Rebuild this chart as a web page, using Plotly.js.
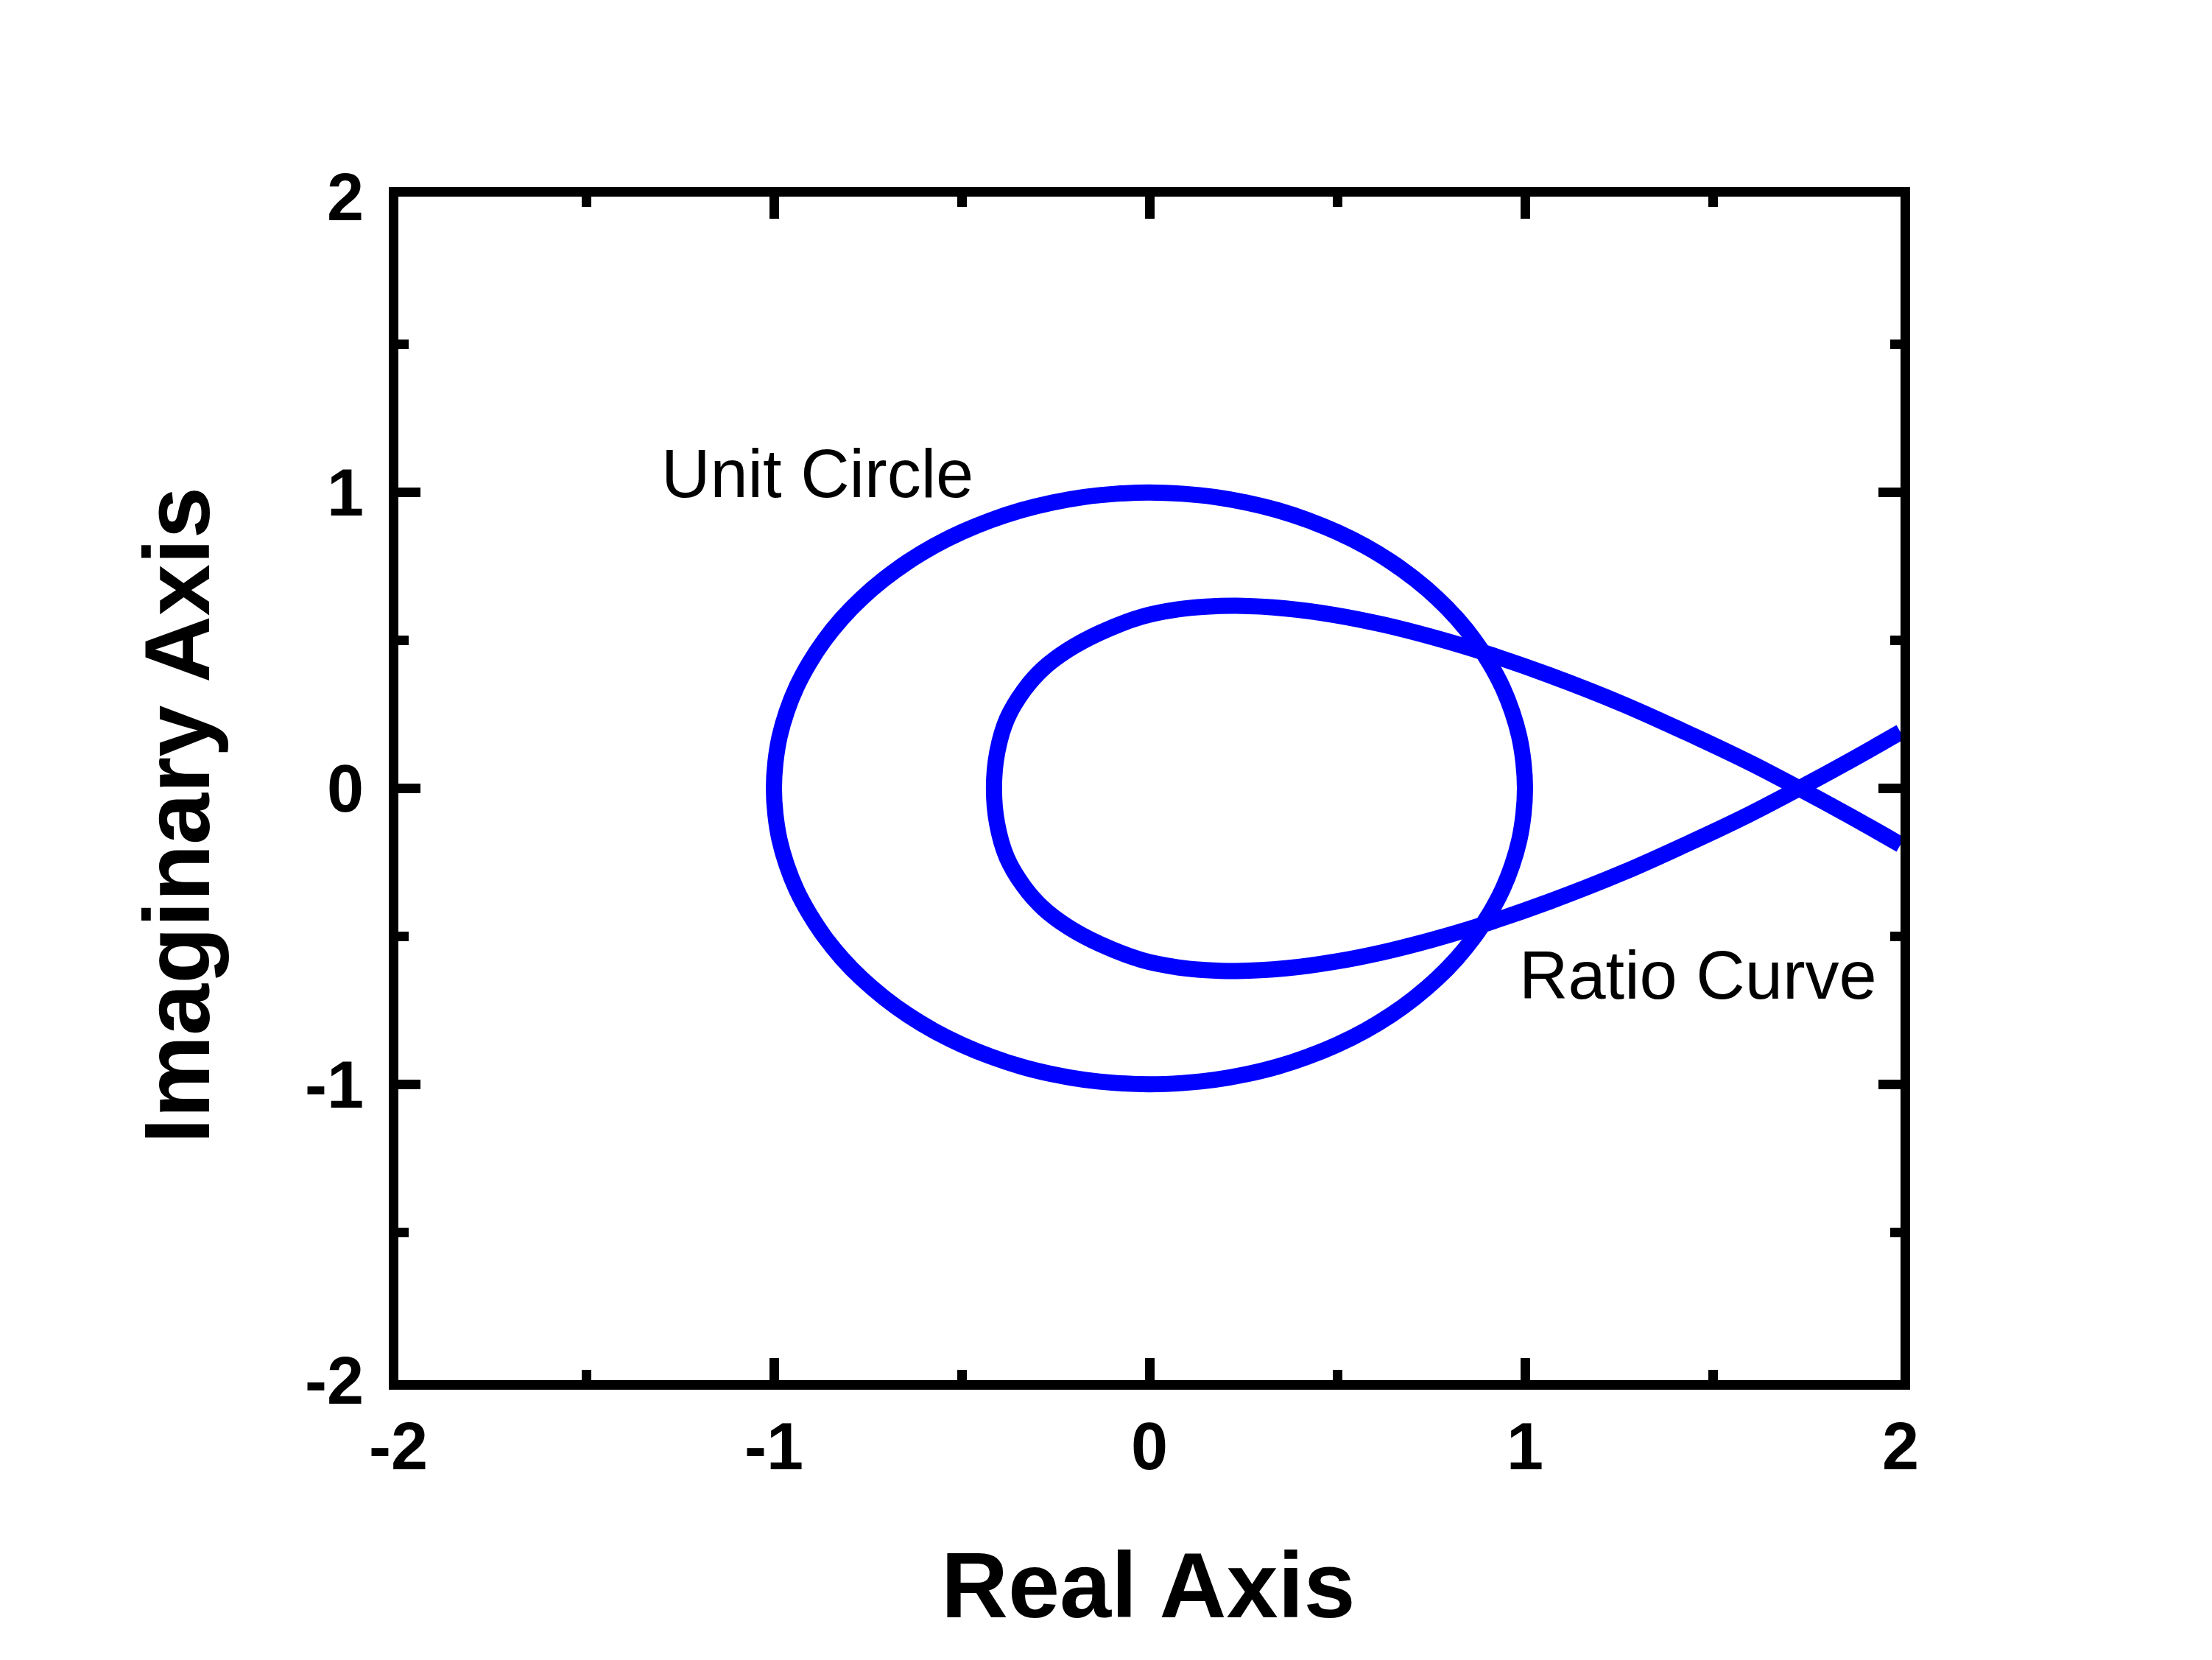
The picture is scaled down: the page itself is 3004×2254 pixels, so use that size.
<!DOCTYPE html>
<html>
<head>
<meta charset="utf-8">
<script src="https://cdn.plot.ly/plotly-3.0.1.min.js"></script>
<style>
  html, body { margin: 0; padding: 0; background: #fff; }
  #chart { width: 3004px; height: 2254px; }
</style>
</head>
<body>
<div id="chart"></div>
<script>
// unit circle, read every 5 degrees
const circleX = [1.000, 0.996, 0.985, 0.966, 0.940, 0.906, 0.866, 0.819, 0.766, 0.707,
  0.643, 0.574, 0.500, 0.423, 0.342, 0.259, 0.174, 0.087, 0.000,
  -0.087, -0.174, -0.259, -0.342, -0.423, -0.500, -0.574, -0.643, -0.707,
  -0.766, -0.819, -0.866, -0.906, -0.940, -0.966, -0.985, -0.996, -1.000,
  -0.996, -0.985, -0.966, -0.940, -0.906, -0.866, -0.819, -0.766, -0.707,
  -0.643, -0.574, -0.500, -0.423, -0.342, -0.259, -0.174, -0.087, 0.000,
  0.087, 0.174, 0.259, 0.342, 0.423, 0.500, 0.574, 0.643, 0.707,
  0.766, 0.819, 0.866, 0.906, 0.940, 0.966, 0.985, 0.996, 1.000];
const circleY = [0.000, 0.087, 0.174, 0.259, 0.342, 0.423, 0.500, 0.574, 0.643, 0.707,
  0.766, 0.819, 0.866, 0.906, 0.940, 0.966, 0.985, 0.996, 1.000,
  0.996, 0.985, 0.966, 0.940, 0.906, 0.866, 0.819, 0.766, 0.707,
  0.643, 0.574, 0.500, 0.423, 0.342, 0.259, 0.174, 0.087, 0.000,
  -0.087, -0.174, -0.259, -0.342, -0.423, -0.500, -0.574, -0.643, -0.707,
  -0.766, -0.819, -0.866, -0.906, -0.940, -0.966, -0.985, -0.996, -1.000,
  -0.996, -0.985, -0.966, -0.940, -0.906, -0.866, -0.819, -0.766, -0.707,
  -0.643, -0.574, -0.500, -0.423, -0.342, -0.259, -0.174, -0.087, 0.000];

// ratio curve, traced from the lower right end round the loop
const ratioX = [2.0, 1.865, 1.73, 1.60, 1.465, 1.264, 1.064, 0.884, 0.754, 0.624,
  0.493, 0.363, 0.233, 0.15, 0.076, -0.021, -0.132, -0.217, -0.282, -0.334,
  -0.380, -0.406, -0.414,
  -0.406, -0.380, -0.334, -0.282, -0.217, -0.132, -0.021, 0.076, 0.15, 0.233,
  0.363, 0.493, 0.624, 0.754, 0.884, 1.064, 1.264, 1.465, 1.60, 1.73, 1.865, 2.0];
const ratioY = [-0.190, -0.093, 0, 0.086, 0.168, 0.283, 0.383, 0.462, 0.511, 0.553,
  0.586, 0.608, 0.617, 0.614, 0.605, 0.580, 0.526, 0.468, 0.406, 0.332,
  0.233, 0.117, 0,
  -0.117, -0.233, -0.332, -0.406, -0.468, -0.526, -0.580, -0.605, -0.614, -0.617,
  -0.608, -0.586, -0.553, -0.511, -0.462, -0.383, -0.283, -0.168, -0.086, 0, 0.093, 0.190];

const tickVals = [-2, -1, 0, 1, 2];
const tickText = ["-2", "-1", "0", "1", "2"];

const labels = [
  { text: "Unit Circle", x: -0.884, y: 1.063 },
  { text: "Ratio Curve", x: 1.46, y: -0.63 },
];

const FONT = "Liberation Sans, Arial, sans-serif";

const traces = [
  { type: "scatter", mode: "lines", x: circleX, y: circleY,
    line: { color: "#0000ff", width: 22, shape: "spline", smoothing: 1 }, hoverinfo: "skip" },
  { type: "scatter", mode: "lines", x: ratioX, y: ratioY,
    line: { color: "#0000ff", width: 22, shape: "spline", smoothing: 0.9 }, hoverinfo: "skip" },
];

const tickFont = { family: FONT, size: 90, color: "#000", weight: "bold" };
const titleFont = { family: FONT, size: 126, color: "#000", weight: "bold" };

function axis(labelStandoff) {
  return {
    range: [-2, 2],
    tickmode: "array",
    tickvals: tickVals,
    ticktext: tickText,
    ticks: "inside",
    ticklen: 30,
    tickwidth: 13,
    tickcolor: "#000",
    minor: { dtick: 0.5, tick0: 0, ticks: "inside", ticklen: 14, tickwidth: 13, tickcolor: "#000" },
    showline: true,
    linewidth: 13,
    linecolor: "#000",
    mirror: "allticks",
    showgrid: false,
    zeroline: false,
    tickfont: tickFont,
    ticklabelstandoff: labelStandoff,
    automargin: false,
    fixedrange: true,
  };
}

const annotations = labels.map((l) => ({
  text: l.text,
  x: l.x,
  y: l.y,
  xref: "x",
  yref: "y",
  showarrow: false,
  font: { family: FONT, size: 92, color: "#000" },
}));

// axis titles
annotations.push({
  text: "Real Axis", xref: "paper", yref: "paper", x: 0.4993, y: -0.173,
  xanchor: "center", yanchor: "middle", showarrow: false, font: titleFont,
});
annotations.push({
  text: "Imaginary Axis", xref: "paper", yref: "paper", x: -0.147, y: 0.4774,
  xanchor: "center", yanchor: "middle", textangle: -90, showarrow: false, font: titleFont,
});

const layout = {
  width: 3004,
  height: 2254,
  margin: { l: 541, r: 423, t: 267, b: 380 },
  paper_bgcolor: "#fff",
  plot_bgcolor: "#fff",
  showlegend: false,
  xaxis: axis(0),
  yaxis: axis(16),
  annotations: annotations,
};

Plotly.newPlot("chart", traces, layout, { staticPlot: true, displayModeBar: false });
</script>
</body>
</html>
